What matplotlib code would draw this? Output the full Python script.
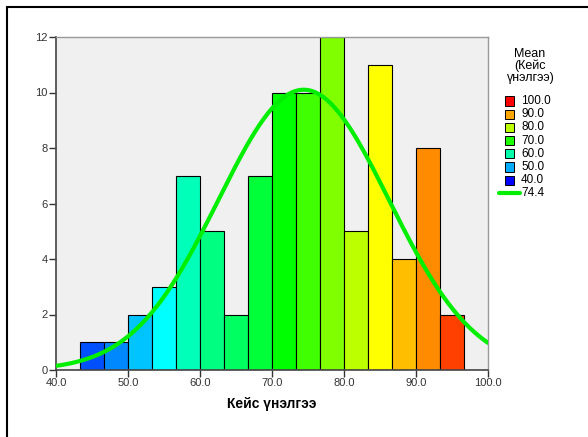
import matplotlib.pyplot as plt
import numpy as np
from matplotlib.patches import Rectangle
from matplotlib.lines import Line2D

plt.rcParams["font.family"] = ["Liberation Sans", "DejaVu Sans"]

# histogram bins (width 10/3) and counts
bin_left = [43.33, 46.67, 50.0, 53.33, 56.67, 60.0, 63.33, 66.67,
            70.0, 73.33, 76.67, 80.0, 83.33, 86.67, 90.0, 93.33]
bin_width = 10 / 3
counts = [1, 1, 2, 3, 7, 5, 2, 7, 10, 10, 12, 5, 11, 4, 8, 2]
bar_colors = ["#0050ff", "#0088ff", "#00c4ff", "#00ffff", "#00ffb8", "#00ff80",
              "#00ff60", "#00ff38", "#00ff00", "#40ff00", "#80ff00", "#bbff00",
              "#ffff00", "#ffbe00", "#ff8c00", "#ff4000"]

# normal curve parameters
mean_val = 74.4
sd_val = 11.85
n_total = 90

legend_labels = ["100.0", "90.0", "80.0", "70.0", "60.0", "50.0", "40.0"]
legend_colors = ["#ff0000", "#ffa500", "#bbff00", "#20ff00", "#00ffaa", "#00aaff", "#0000ff"]

fig = plt.figure(figsize=(5.88, 4.37), dpi=100)
W, H = 588, 437
ax = fig.add_axes([56 / W, 1 - 370 / H, (488 - 56) / W, (370 - 37) / H])
ax.set_facecolor("#f0f0f0")

ax.bar(bin_left, counts, width=bin_width, align="edge", color=bar_colors,
       edgecolor="black", linewidth=0.8, zorder=2)

xs = np.linspace(40, 100, 300)
ys = n_total * bin_width / (sd_val * np.sqrt(2 * np.pi)) * np.exp(-0.5 * ((xs - mean_val) / sd_val) ** 2)
ax.plot(xs, ys, color="#00ee00", linewidth=3, zorder=3, solid_capstyle="round")

ax.set_xlim(40, 100)
ax.set_ylim(0, 12)
ax.set_xticks(np.arange(40, 101, 10))
ax.set_xticklabels([f"{v:.1f}" for v in np.arange(40, 101, 10)])
ax.set_yticks(np.arange(0, 13, 2))
ax.tick_params(direction="out", length=5, width=1, labelsize=8, colors="#333333", pad=1)
for s in ["left", "bottom"]:
    ax.spines[s].set_color("#444444")
    ax.spines[s].set_linewidth(1.2)
for s in ["top", "right"]:
    ax.spines[s].set_color("#999999")
    ax.spines[s].set_linewidth(1)
ax.set_xlabel("Кейс үнэлгээ", fontsize=10, fontweight="bold", labelpad=6)

# outer frame
fig.patches.append(Rectangle((7 / W, -0.1), 1.2, 1 - 7 / H + 0.1, transform=fig.transFigure,
                             fill=False, edgecolor="black", linewidth=1.5))

# legend drawn manually
fig.text(530 / W, 1 - 48 / H, "Mean\n(Кейс\nүнэлгээ)", ha="center", va="top",
         fontsize=9, linespacing=1.0)
y0 = 101
for i, (lab, col) in enumerate(zip(legend_labels, legend_colors)):
    yy = y0 + i * 13.2
    fig.patches.append(Rectangle((505 / W, 1 - (yy + 4.5) / H), 9 / W, 9 / H,
                                 transform=fig.transFigure, facecolor=col,
                                 edgecolor="black", linewidth=0.7))
    fig.text(521 / W, 1 - yy / H, lab, ha="left", va="center", fontsize=8.5)
yy = y0 + 7 * 13.2
fig.lines.append(Line2D([499 / W, 520 / W], [1 - yy / H, 1 - yy / H], transform=fig.transFigure,
                        color="#00ee00", linewidth=3, solid_capstyle="round"))
fig.text(521 / W, 1 - yy / H, "74.4", ha="left", va="center", fontsize=8.5)

fig.savefig("out.png", dpi=100)
